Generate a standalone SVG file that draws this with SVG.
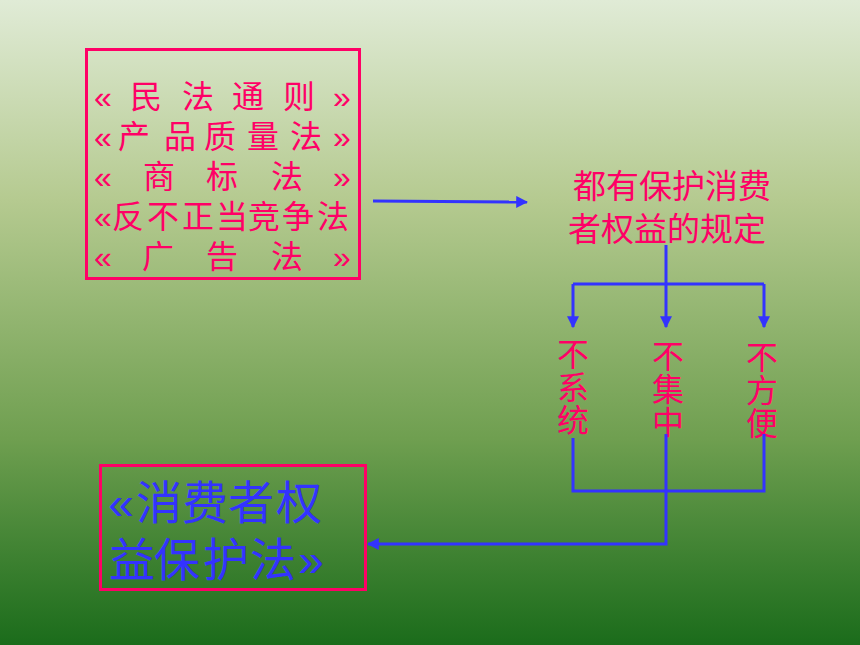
<svg xmlns="http://www.w3.org/2000/svg" width="860" height="645" viewBox="0 0 860 645">
<defs>
<linearGradient id="bg" x1="0" y1="0" x2="0" y2="1">
<stop offset="0" stop-color="#e0ebd6"/>
<stop offset="0.31" stop-color="#b5ca90"/>
<stop offset="0.68" stop-color="#6f9f50"/>
<stop offset="0.87" stop-color="#3c8030"/>
<stop offset="1" stop-color="#1b6c1b"/>
</linearGradient>
<marker id="ah" viewBox="0 0 10 10" refX="9" refY="5" markerWidth="4" markerHeight="4" orient="auto" markerUnits="strokeWidth">
<path d="M0,0 L10,5 L0,10 z" fill="#3333ff"/>
</marker>
<style>
.box{fill:none;stroke:#ff0066;stroke-width:3}
.pk{fill:#ff0066;font-family:"Liberation Sans","Noto Sans CJK SC",sans-serif;text-anchor:middle}
.vt{fill:#ff0066;font-family:"Noto Sans CJK SC","Noto Sans",sans-serif;font-size:32px;writing-mode:vertical-rl;letter-spacing:1px}
.bl{fill:#3333ff;font-family:"Liberation Sans","Noto Sans CJK SC",sans-serif;text-anchor:middle}
.ln{fill:none;stroke:#3333ff;stroke-width:3}
</style>
</defs>
<rect width="860" height="645" fill="url(#bg)"/>
<g id="laws">
<rect class="box" x="86.5" y="49.5" width="273" height="229"/>
<text class="pk" font-size="32"><tspan x="103 146 198 248 299 342" y="108">«民法通则»</tspan><tspan x="103 134 180 220 263 306 342" y="148">«产品质量法»</tspan><tspan x="103 159 222 287 342" y="188">«商标法»</tspan><tspan x="103 128 163 198 232 264 298 333" y="228">«反不正当竞争法</tspan><tspan x="103 158 222 287 342" y="268">«广告法»</tspan></text>
</g>
<g id="rule">
<text class="pk" font-size="33"><tspan x="672" y="198">都有保护消费</tspan><tspan x="667" y="241">者权益的规定</tspan></text>
</g>
<g id="n1">
<text class="vt" x="573" y="338">不系统</text>
</g>
<g id="n2">
<text class="vt" x="668" y="340">不集中</text>
</g>
<g id="n3">
<text class="vt" x="762" y="341">不方便</text>
</g>
<g id="cpl">
<rect class="box" x="100.5" y="465.5" width="265" height="124"/>
<text class="bl" font-size="46"><tspan x="121 159 205 251 299" y="519">«消费者权</tspan><tspan x="132 177 226 273 311" y="576">益保护法»</tspan></text>
</g>
<g id="connectors">
<line class="ln" x1="373" y1="201" x2="527" y2="202" marker-end="url(#ah)"/>
<line class="ln" x1="666" y1="245" x2="666" y2="284"/>
<line class="ln" x1="573" y1="284" x2="764" y2="284"/>
<line class="ln" x1="573" y1="284" x2="573" y2="327" marker-end="url(#ah)"/>
<line class="ln" x1="666" y1="284" x2="666" y2="327" marker-end="url(#ah)"/>
<line class="ln" x1="764" y1="284" x2="764" y2="327" marker-end="url(#ah)"/>
<polyline class="ln" points="573,438 573,491 764,491 764,434"/>
<polyline class="ln" points="666,434 666,544 368,544" marker-end="url(#ah)"/>
</g>
</svg>
